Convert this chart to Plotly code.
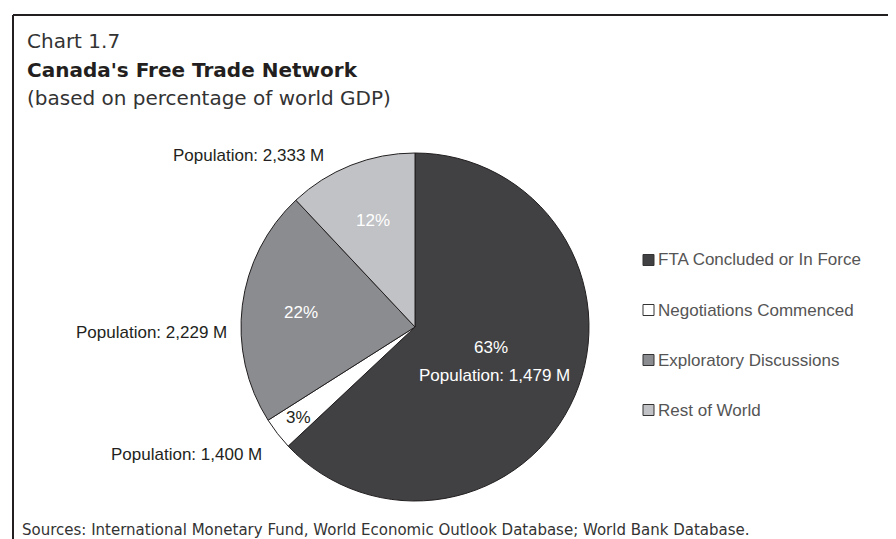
import math
import plotly.graph_objects as go

# ---------------- data ----------------
categories = ["FTA Concluded or In Force", "Negotiations Commenced",
              "Exploratory Discussions", "Rest of World"]
gdp_share = [63, 3, 22, 12]            # % of world GDP
population_m = [1479, 1400, 2229, 2333]  # population, millions

title_small = "Chart 1.7"
title_main = "Canada's Free Trade Network"
subtitle = "(based on percentage of world GDP)"
source_text = "Sources: International Monetary Fund, World Economic Outlook Database; World Bank Database."

# ---------------- styles / layout ----------------
colors = ["#414143", "#ffffff", "#8b8c8f", "#c1c2c5"]
pct_colors = ["#ffffff", "#231f20", "#ffffff", "#ffffff"]
pct_radius = [0.5, 0.85, 0.66, 0.66]
# right-anchored positions (px) for outside population labels; None = inside
pop_anchor = [None, (256, 446), (221, 324), (318, 147)]

W, H = 896, 539
CX, CY, R = 407, 319, 174
LBL_FONT = "Liberation Sans, Arial, sans-serif"
TTL_FONT = "DejaVu Sans, sans-serif"


def px(x):
    return x / W


def py(y):
    return 1 - y / H


fig = go.Figure(go.Pie(
    labels=categories, values=gdp_share, sort=False, direction="clockwise",
    rotation=0, textinfo="none", hoverinfo="label+percent", showlegend=False,
    marker=dict(colors=colors, line=dict(color="#231f20", width=1)),
    domain=dict(x=[px(CX - R), px(CX + R)], y=[py(CY + R), py(CY - R)]),
))

ann = []
total = sum(gdp_share)
cum = 0
for i, v in enumerate(gdp_share):
    mid = (cum + v / 2) / total * 2 * math.pi
    cum += v
    lx = CX + pct_radius[i] * R * math.sin(mid)
    ly = CY - pct_radius[i] * R * math.cos(mid)
    pct = f"{round(v / total * 100)}%"
    pop = f"Population: {population_m[i]:,} M"
    if pop_anchor[i] is None:
        ann.append(dict(x=px(lx - 4), y=py(ly - 14), text=pct,
                        font=dict(color=pct_colors[i])))
        ann.append(dict(x=px(lx), y=py(ly + 14), text=pop,
                        font=dict(color=pct_colors[i])))
    else:
        ann.append(dict(x=px(lx), y=py(ly), text=pct,
                        font=dict(color=pct_colors[i])))
        ax, ay = pop_anchor[i]
        ann.append(dict(x=px(ax), y=py(ay), text=pop, xanchor="right",
                        font=dict(color="#231f20")))

for a in ann:
    a.setdefault("xanchor", "center")
    a.update(xref="paper", yref="paper", yanchor="middle", showarrow=False)
    a["font"].update(family=LBL_FONT, size=17)

# legend (drawn manually to match the wide item spacing)
shapes = []
leg_y = [252, 302, 352, 402]
for i, name in enumerate(categories):
    y = leg_y[i]
    shapes.append(dict(type="rect", xref="paper", yref="paper",
                       x0=px(635), x1=px(646), y0=py(y + 5.5), y1=py(y - 5.5),
                       fillcolor=colors[i], line=dict(color="#333333", width=1)))
    ann.append(dict(xref="paper", yref="paper", x=px(648), y=py(y),
                    xanchor="left", yanchor="middle", showarrow=False,
                    text=name, font=dict(family=LBL_FONT, size=17, color="#555555")))

# titles
ann.append(dict(xref="paper", yref="paper", x=px(17), y=py(33), xanchor="left",
                yanchor="middle", showarrow=False, text=title_small,
                font=dict(family=TTL_FONT, size=20, color="#333333")))
ann.append(dict(xref="paper", yref="paper", x=px(17), y=py(62), xanchor="left",
                yanchor="middle", showarrow=False, text=f"<b>{title_main}</b>",
                font=dict(family=TTL_FONT, size=20, color="#231f20")))
ann.append(dict(xref="paper", yref="paper", x=px(17), y=py(90), xanchor="left",
                yanchor="middle", showarrow=False, text=subtitle,
                font=dict(family=TTL_FONT, size=20, color="#333333")))
ann.append(dict(xref="paper", yref="paper", x=px(12), y=py(522), xanchor="left",
                yanchor="middle", showarrow=False, text=source_text,
                font=dict(family=TTL_FONT, size=15, color="#333333")))

# frame (top and left edges visible)
shapes.append(dict(type="line", xref="paper", yref="paper",
                   x0=px(5), x1=1.01, y0=py(7), y1=py(7),
                   line=dict(color="#231f20", width=2)))
shapes.append(dict(type="line", xref="paper", yref="paper",
                   x0=px(5), x1=px(5), y0=-0.01, y1=py(7),
                   line=dict(color="#231f20", width=2)))

fig.update_layout(
    width=W, height=H, margin=dict(l=0, r=0, t=0, b=0),
    paper_bgcolor="white", plot_bgcolor="white",
    annotations=ann, shapes=shapes, showlegend=False,
)

fig.write_html("out.html", config={"displayModeBar": False})
